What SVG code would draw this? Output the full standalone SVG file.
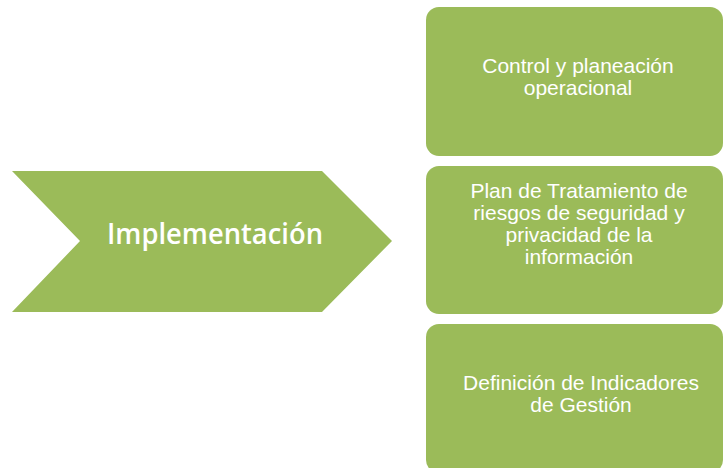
<svg xmlns="http://www.w3.org/2000/svg" width="723" height="468" viewBox="0 0 723 468">
<style>
.shape{fill:#9BBB59;}
.lbl{fill:#FFFFFF;font-family:"Liberation Sans",Arial,sans-serif;font-size:21px;text-anchor:middle;}
.big{fill:#FFFFFF;font-family:"Open Sans","Noto Sans",sans-serif;font-weight:600;font-size:28px;}
</style>
<rect width="723" height="468" fill="#FFFFFF"/>
<g id="implementacion">
<polygon class="shape" points="12,171 322,171 392,241 322,312 12,312 80,241"/>
<text class="big" x="107" y="244" textLength="216" lengthAdjust="spacingAndGlyphs">Implementación</text>
</g>
<g id="control">
<rect class="shape" x="426" y="7" width="297" height="149" rx="13" ry="13"/>
<text class="lbl" x="578" y="73">Control y planeación</text>
<text class="lbl" x="578" y="95">operacional</text>
</g>
<g id="plan">
<rect class="shape" x="426" y="166" width="297" height="148" rx="13" ry="13"/>
<text class="lbl" x="579" y="198">Plan de Tratamiento de</text>
<text class="lbl" x="579" y="220">riesgos de seguridad y</text>
<text class="lbl" x="579" y="242">privacidad de la</text>
<text class="lbl" x="579" y="264">información</text>
</g>
<g id="indicadores">
<rect class="shape" x="426" y="324" width="297" height="149" rx="13" ry="13"/>
<text class="lbl" x="581" y="390">Definición de Indicadores</text>
<text class="lbl" x="581" y="412">de Gestión</text>
</g>
<g id="connectors"></g>
</svg>
